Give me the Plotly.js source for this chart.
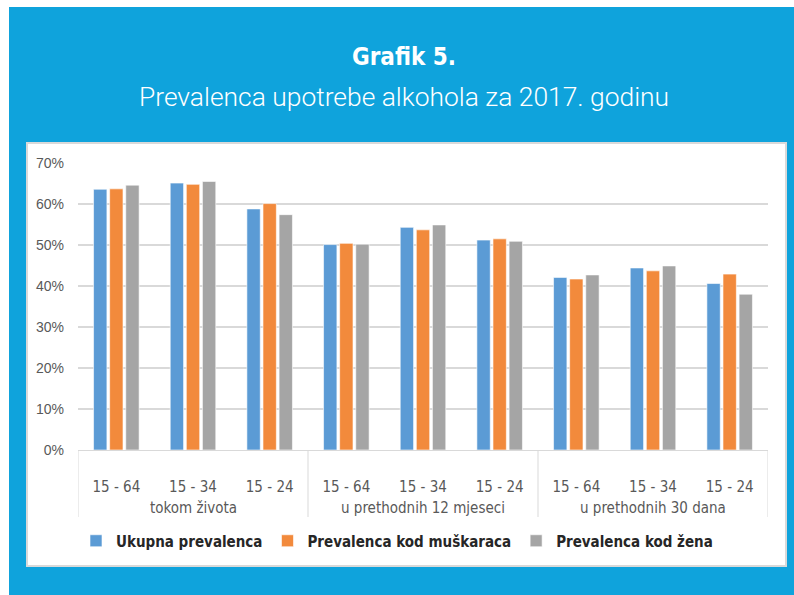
<!DOCTYPE html>
<html>
<head>
<meta charset="utf-8">
<script src="https://cdn.plot.ly/plotly-3.0.1.min.js"></script>
<style>
  html, body { margin: 0; padding: 0; background: #ffffff; }
</style>
</head>
<body>
<div id="chart"></div>
<script>
var groups = ["tokom života", "u prethodnih 12 mjeseci", "u prethodnih 30 dana"];
var ageRanges = ["15 - 64", "15 - 34", "15 - 24"];

var ukupna = [63.6, 65.1, 58.8, 50.1, 54.3, 51.2, 42.1, 44.4, 40.6];
var muskarci = [63.7, 64.8, 60.1, 50.4, 53.7, 51.5, 41.7, 43.7, 42.9];
var zene = [64.6, 65.5, 57.4, 50.2, 54.9, 50.9, 42.7, 44.9, 38.0];

var seriesNames = ["Ukupna prevalenca", "Prevalenca kod muškaraca", "Prevalenca kod žena"];
var seriesColors = ["#5b9bd5", "#f28a3c", "#a5a5a5"];

// slot index per bar group, age labels repeat inside each period
var slots = [];
var slotLabels = [];
for (var g = 0; g < groups.length; g++) {
	for (var a = 0; a < ageRanges.length; a++) {
		slots.push(g * ageRanges.length + a);
		slotLabels.push(ageRanges[a]);
	}
}

var W = 794, H = 595;
var L = 78, R = 26, T = 163, B = 145;
var plotW = W - L - R;
var plotH = H - T - B;

// pixel -> paper helpers for the frame decorations
function px(x) { return (x - L) / plotW; }
function py(y) { return (H - B - y) / plotH; }

var values = [ukupna, muskarci, zene];
var data = [];
for (var s = 0; s < values.length; s++) {
	data.push({
		type: "bar",
		x: slots,
		y: values[s].map(function (v) { return v / 100; }),
		name: seriesNames[s],
		marker: {
			color: seriesColors[s],
			line: { color: "#ffffff", width: 0.6 }
		},
		hoverinfo: "skip"
	});
}

var shapes = [
	{
		type: "rect", xref: "paper", yref: "paper", layer: "below",
		x0: px(9), x1: px(800), y0: py(600), y1: py(7),
		fillcolor: "#0fa3dc", line: { width: 0 }
	},
	{
		type: "rect", xref: "paper", yref: "paper", layer: "below",
		x0: px(27), x1: px(786), y0: py(566), y1: py(143),
		fillcolor: "#ffffff", line: { color: "#d9d9d9", width: 2 }
	}
];

var annotations = [
	{
		xref: "paper", yref: "paper",
		x: px(404), y: py(57),
		xanchor: "center", yanchor: "middle",
		showarrow: false,
		text: "Grafik 5.",
		font: { size: 24, color: "#ffffff", family: "DejaVu Sans Condensed, Liberation Sans, sans-serif", weight: "bold" }
	},
	{
		xref: "paper", yref: "paper",
		x: px(404), y: py(97),
		xanchor: "center", yanchor: "middle",
		showarrow: false,
		text: "Prevalenca upotrebe alkohola za 2017. godinu",
		font: { size: 26.4, color: "#ffffff", family: "Roboto, Liberation Sans, sans-serif", weight: 300 }
	}
];

// period labels and the divider lines between them
var n = ageRanges.length;
for (var g = 0; g <= groups.length; g++) {
	shapes.push({
		type: "line", xref: "x", yref: "paper",
		x0: g * n - 0.5, x1: g * n - 0.5,
		y0: 0, y1: py(517),
		line: { color: "#d9d9d9", width: 1 }
	});
	if (g < groups.length) {
		annotations.push({
			xref: "x", yref: "paper",
			x: g * n + (n - 1) / 2, y: py(508),
			xanchor: "center", yanchor: "middle",
			showarrow: false,
			text: groups[g],
			font: { size: 15, color: "#595959", family: "DejaVu Sans Condensed, Liberation Sans, sans-serif" }
		});
	}
}

var layout = {
	width: W,
	height: H,
	margin: { l: L, r: R, t: T, b: B, pad: 0 },
	paper_bgcolor: "#ffffff",
	plot_bgcolor: "#ffffff",
	barmode: "group",
	bargap: 0.37,
	bargroupgap: 0.17,
	showlegend: true,
	font: { family: "Liberation Sans, sans-serif", color: "#595959", size: 14 },
	xaxis: {
		range: [-0.5, slots.length - 0.5],
		tickvals: slots,
		ticktext: slotLabels,
		showgrid: false,
		zeroline: false,
		showline: true,
		linecolor: "#d9d9d9",
		linewidth: 1,
		ticks: "",
		ticklabelstandoff: 23,
		tickfont: { size: 15, color: "#595959", family: "DejaVu Sans Condensed, Liberation Sans, sans-serif" },
		fixedrange: true
	},
	yaxis: {
		range: [0, 0.7],
		dtick: 0.1,
		tickformat: ".0%",
		showgrid: true,
		gridcolor: "#d9d9d9",
		gridwidth: 1.5,
		zeroline: false,
		showline: false,
		ticks: "",
		ticklabelstandoff: 13,
		tickfont: { size: 14, color: "#595959", family: "Liberation Sans, sans-serif" },
		fixedrange: true
	},
	legend: {
		orientation: "h",
		x: px(397),
		xanchor: "center",
		y: py(541),
		yanchor: "middle",
		font: { size: 15, color: "#262626", family: "DejaVu Sans Condensed, Liberation Sans, sans-serif", weight: "bold" },
		itemwidth: 30,
		tracegroupgap: 0
	},
	shapes: shapes,
	annotations: annotations
};

Plotly.newPlot("chart", data, layout, {
	displayModeBar: false,
	staticPlot: true
});
</script>
</body>
</html>
